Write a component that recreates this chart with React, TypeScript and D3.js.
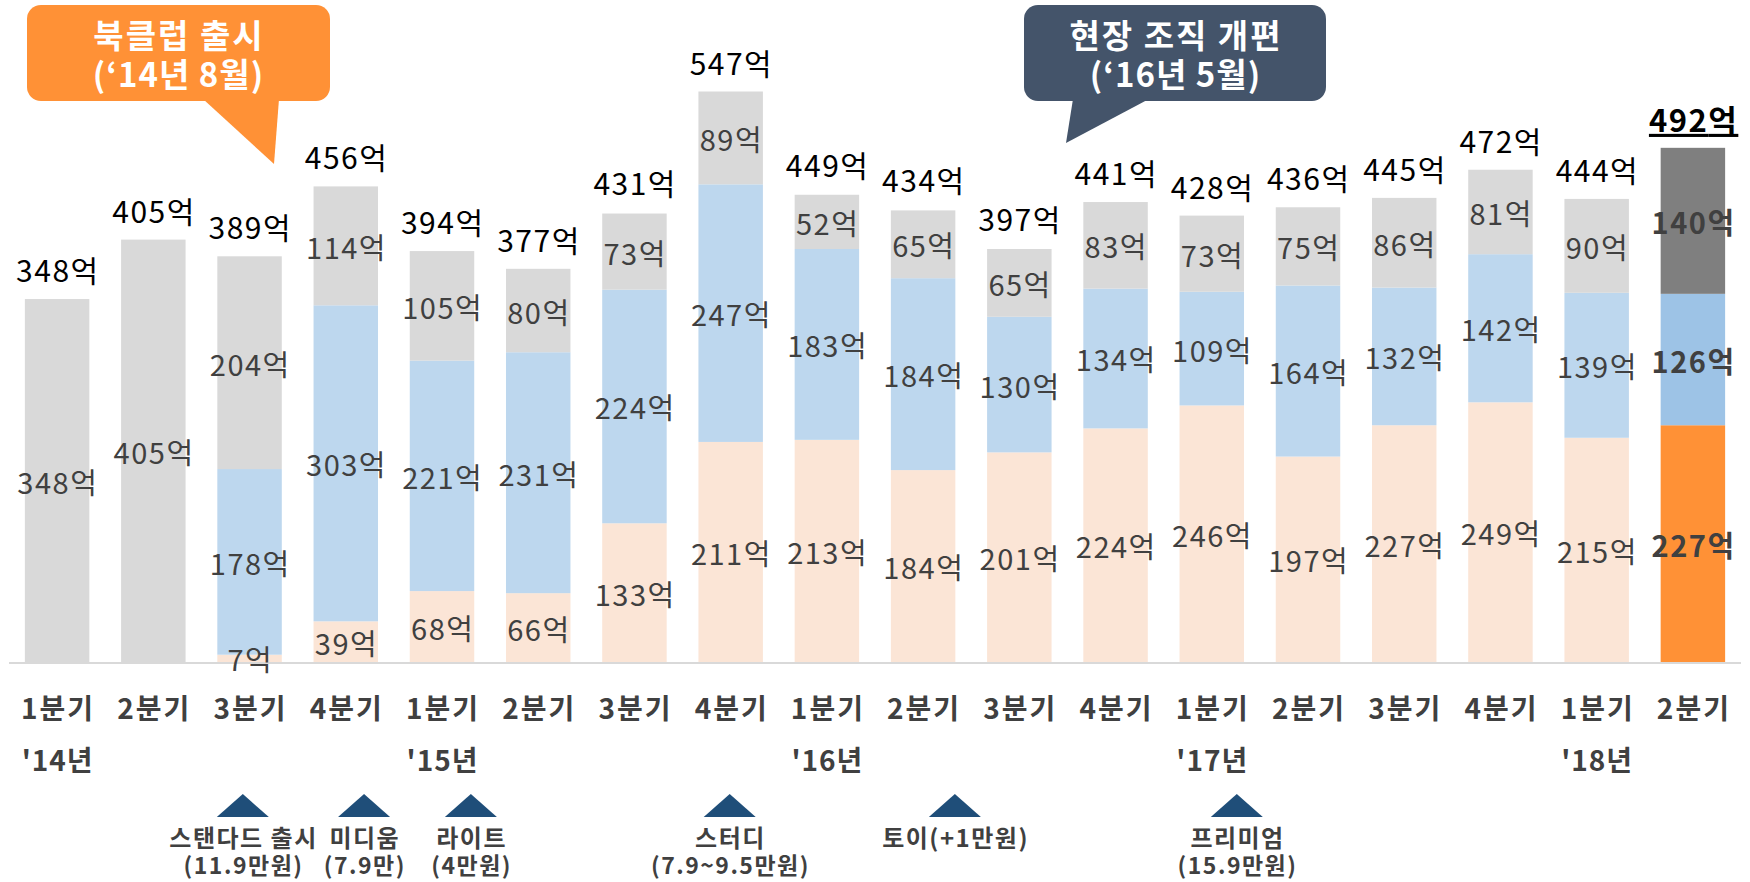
import React from 'react';
import * as d3 from 'd3';

const quarters = ['1분기','2분기','3분기','4분기','1분기','2분기','3분기','4분기','1분기','2분기','3분기','4분기','1분기','2분기','3분기','4분기','1분기','2분기'];
const yearLabels = ["'14년",'','','',"'15년",'','','',"'16년",'','','',"'17년",'','','',"'18년",''];
const seriesBottom = [0,0,7,39,68,66,133,211,213,184,201,224,246,197,227,249,215,227];
const seriesMiddle = [0,0,178,303,221,231,224,247,183,184,130,134,109,164,132,142,139,126];
const seriesTop = [348,405,204,114,105,80,73,89,52,65,65,83,73,75,86,81,90,140];
const totals = [348,405,389,456,394,377,431,547,449,434,397,441,428,436,445,472,444,492];

// product launch markers: position in bar-index units, label lines
const markerPos = [1.93, 3.19, 4.3, 6.99, 9.33, 12.26];
const markerLine1 = ['스탠다드 출시','미디움','라이트','스터디','토이(+1만원)','프리미엄'];
const markerLine2 = ['(11.9만원)','(7.9만)','(4만원)','(7.9~9.5만원)','','(15.9만원)'];

const FONT = '"Noto Sans CJK KR", "Noto Sans", sans-serif';

export default function App() {
  const W = 1750, H = 882;
  const n = quarters.length;
  const idx = d3.range(n).map(String);
  const x = d3.scaleBand<string>().domain(idx).range([9, 1741]).paddingInner(0.33).paddingOuter(0.165);
  const y = d3.scaleLinear().domain([0, 547]).range([662, 91.5]);
  const step = x.step();
  const cx = (i: number) => (x(String(i)) as number) + x.bandwidth() / 2;
  const posX = (p: number) => cx(0) + p * step;

  const last = n - 1;
  const normalColors = ['#FBE5D6', '#BDD7EE', '#D9D9D9'];
  const lastColors = ['#FF9136', '#9DC3E6', '#7F7F7F'];
  const series = [seriesBottom, seriesMiddle, seriesTop];

  const stackData = idx.map((_, i) => ({ a: seriesBottom[i], b: seriesMiddle[i], c: seriesTop[i] }));
  const stacked = d3.stack<any>().keys(['a', 'b', 'c'])(stackData);

  // letter-spacing adds trailing space; shift by half to keep centred
  const T = (props: any) => {
    const ls = props.ls || 0;
    const { ls: _l, x: tx, ...rest } = props;
    return <text x={tx + ls / 2} letterSpacing={ls} textAnchor="middle" {...rest} />;
  };

  return (
    <svg width={W} height={H} style={{ position: 'absolute', left: 0, top: 0, background: '#fff' }} fontFamily={FONT}>
      <rect x={0} y={0} width={W} height={H} fill="#fff" />
      {stacked.map((layer, k) =>
        layer.map((d, i) => {
          const v = series[k][i];
          if (v <= 0) return null;
          return (
            <rect key={`r${k}-${i}`} x={x(String(i))} y={y(d[1])} width={x.bandwidth()} height={y(d[0]) - y(d[1])}
              fill={i === last ? lastColors[k] : normalColors[k]} />
          );
        })
      )}
      <line x1={9} x2={1741} y1={663} y2={663} stroke="#D9D9D9" strokeWidth={2} />
      {stacked.map((layer, k) =>
        layer.map((d, i) => {
          const v = series[k][i];
          if (v <= 0) return null;
          return (
            <T key={`t${k}-${i}`} x={cx(i)} y={(y(d[0]) + y(d[1])) / 2} dominantBaseline="central" ls={1.5}
              fontSize={29} fill="#404040" fontWeight={i === last ? 700 : 400}>{v}억</T>
          );
        })
      )}
      {totals.map((t, i) => (
        <T key={`tot${i}`} x={cx(i)} y={y(t) - 17} fontSize={i === last ? 31 : 30} ls={1.5}
          fill="#000" fontWeight={i === last ? 700 : 400} textDecoration={i === last ? 'underline' : undefined}>{t}억</T>
      ))}
      {quarters.map((q, i) => (
        <T key={`q${i}`} x={cx(i)} y={707} dominantBaseline="central" fontSize={28} ls={2} fontWeight={700} fill="#404040">{q}</T>
      ))}
      {yearLabels.map((q, i) => q ? (
        <T key={`yr${i}`} x={cx(i)} y={759} dominantBaseline="central" fontSize={28} ls={1} fontWeight={700} fill="#404040">{q}</T>
      ) : null)}
      {markerPos.map((p, i) => {
        const mx = posX(p);
        return (
          <g key={`m${i}`}>
            <polygon points={`${mx - 26},817 ${mx + 26},817 ${mx},794`} fill="#1F4E79" />
            <T x={mx} y={836} dominantBaseline="central" fontSize={24} ls={1.5} fontWeight={700} fill="#404040">{markerLine1[i]}</T>
            {markerLine2[i] && <T x={mx} y={864} dominantBaseline="central" fontSize={23} ls={1.5} fontWeight={700} fill="#404040">{markerLine2[i]}</T>}
          </g>
        );
      })}
      {/* callout 1 */}
      <g>
        <rect x={27} y={5} width={303} height={96} rx={14} fill="#FF9136" />
        <polygon points="203,99 279,99 274,164" fill="#FF9136" />
        <T x={178} y={34} dominantBaseline="central" fontSize={33} ls={2} fontWeight={700} fill="#fff">북클럽 출시</T>
        <T x={178} y={73} dominantBaseline="central" fontSize={33} ls={1} fontWeight={700} fill="#fff">(‘14년 8월)</T>
      </g>
      {/* callout 2 */}
      <g>
        <rect x={1024} y={5} width={302} height={96} rx={14} fill="#44546A" />
        <polygon points="1073,99 1149,99 1066,143" fill="#44546A" />
        <T x={1175} y={34} dominantBaseline="central" fontSize={33} ls={2} fontWeight={700} fill="#fff">현장 조직 개편</T>
        <T x={1175} y={73} dominantBaseline="central" fontSize={33} ls={1} fontWeight={700} fill="#fff">(‘16년 5월)</T>
      </g>
    </svg>
  );
}
